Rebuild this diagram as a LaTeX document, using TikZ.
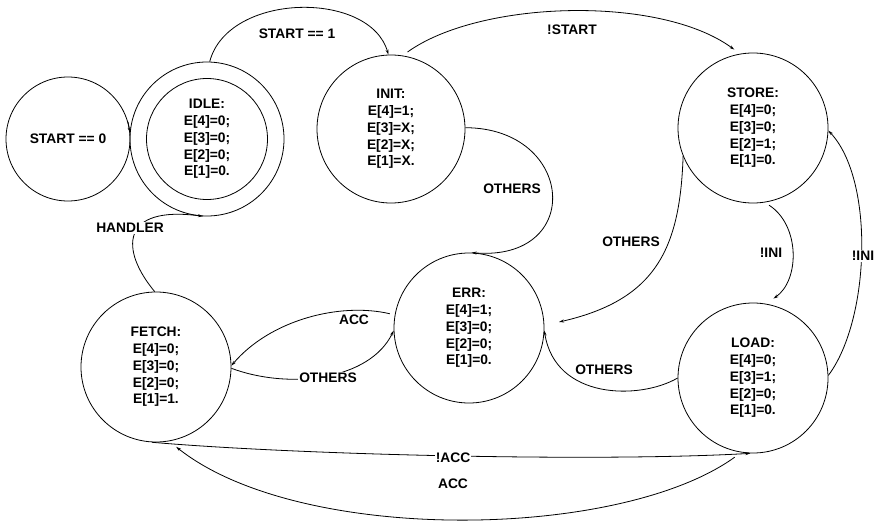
\documentclass[tikz,border=0pt]{standalone}
\usepackage{fontspec}
\setmainfont{Liberation Sans}
\usetikzlibrary{arrows.meta}
\begin{document}
\begin{tikzpicture}[x=1pt,y=-1pt,
  state/.style={draw, circle, line width=0.8pt, inner sep=0pt, align=center, font=\fontsize{13.8}{16.7}\selectfont\bfseries},
  lbl/.style={inner sep=1pt, font=\fontsize{13.8}{16}\selectfont\bfseries},
  wlbl/.style={lbl, fill=white},
  conn/.style={line width=0.8pt, -{Stealth[length=5pt,width=3pt]}},
]
\useasboundingbox (0,0) rectangle (877,522);
\fill[white] (0,0) rectangle (877,522);

% states
\node[state, minimum size=124pt] (loop) at (68,139) {START == 0};
\node[state, minimum size=154pt] (idle) at (207,139) {};
\node[state, minimum size=121pt] (idlein) at (207,139) {IDLE:\\E[4]=0;\\E[3]=0;\\E[2]=0;\\E[1]=0.};
\node[state, minimum size=148pt] (init) at (391,129) {INIT:\\E[4]=1;\\E[3]=X;\\E[2]=X;\\E[1]=X.};
\node[state, minimum size=150pt] (store) at (753,128) {STORE:\\E[4]=0;\\E[3]=0;\\E[2]=1;\\E[1]=0.};
\node[state, minimum size=150pt] (fetch) at (156,367) {FETCH:\\E[4]=0;\\E[3]=0;\\E[2]=0;\\E[1]=1.};
\node[state, minimum size=150pt] (err) at (469,328) {ERR:\\E[4]=1;\\E[3]=0;\\E[2]=0;\\E[1]=0.};
\node[state, minimum size=150pt] (load) at (753,378) {LOAD:\\E[4]=0;\\E[3]=1;\\E[2]=0;\\E[1]=0.};

% connectors
\draw[conn] (loop.16) -- (loop.6);
\draw[conn] (idle.88) .. controls (228,-8) and (370,-10) .. (init.92);
\draw[conn, shorten <=6pt, shorten >=7pt] (init.81) .. controls (480,0) and (660,-5) .. (store.100);
\draw[conn] (init.1) .. controls (575,128) and (585,262) .. (err.88);
\draw[conn, shorten >=15pt] (store.202) .. controls (680,250) and (655,300) .. (err.2);
\draw[conn] (load.180) .. controls (640,400) and (555,400) .. (err.-2);
\draw[conn, shorten <=5pt, shorten >=9pt] (store.-81) .. controls (800,225) and (800,280) .. (load.80);
\draw[conn] (load.2) .. controls (870,320) and (875,180) .. (store.-2);
\draw[conn, shorten <=5pt] (err.170) .. controls (340,302) and (270,320) .. (fetch.1);
\draw[conn] (fetch.-1) .. controls (290,390) and (370,380) .. (err.182);
\draw[conn] (fetch.91) .. controls (120,250) and (120,205) .. (idle.-93);
\draw[conn] (fetch.-93) .. controls (300,455) and (600,462) .. (load.-92);
\draw[conn, shorten <=8pt, shorten >=9pt] (load.-99) .. controls (620,540) and (300,545) .. (fetch.-80);

% labels
\node[lbl] (l1) at (297,34) {START == 1};
\node[lbl] (l2) at (572,30) {!START};
\node[lbl] (l3) at (512,189) {OTHERS};
\node[lbl] (l4) at (631,242) {OTHERS};
\node[lbl] (l5) at (604,370) {OTHERS};
\node[lbl] (l6) at (771,253) {!INI};
\node[wlbl] (l7) at (863,256) {!INI};
\node[lbl] (l8) at (354,320) {ACC};
\node[wlbl] (l9) at (328,378) {OTHERS};
\node[wlbl] (l10) at (130,228) {HANDLER};
\node[wlbl] (l11) at (453,458) {!ACC};
\node[lbl] (l12) at (453,484) {ACC};
\end{tikzpicture}
\end{document}
